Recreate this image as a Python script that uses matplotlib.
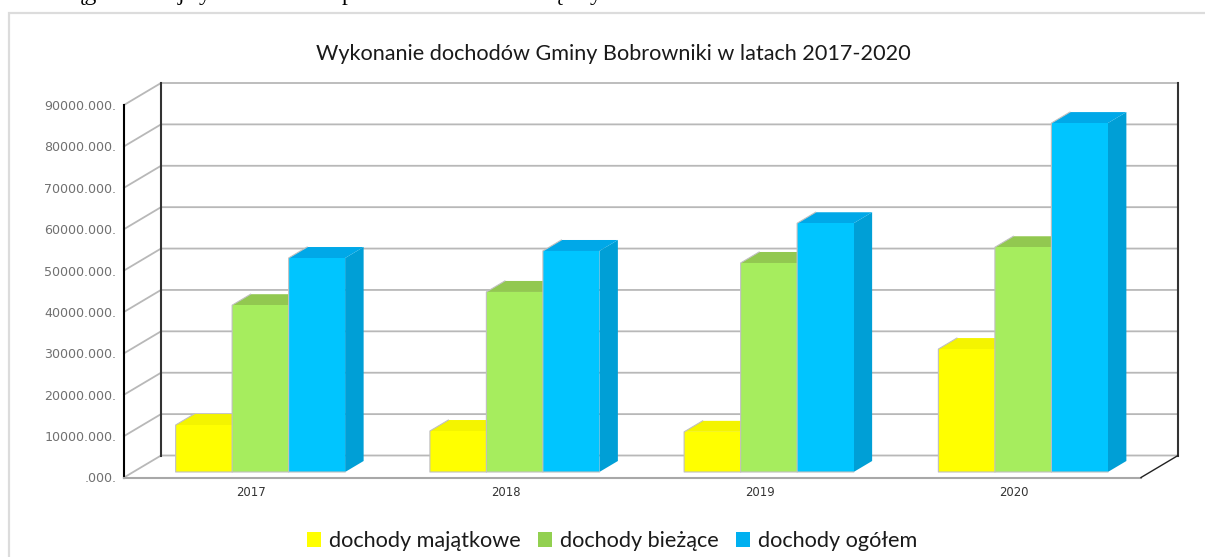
import matplotlib
matplotlib.use("Agg")
import matplotlib.pyplot as plt
from matplotlib.patches import Patch, Polygon, Rectangle
from matplotlib.ticker import FuncFormatter

W, H = 1205, 557

years = ["2017", "2018", "2019", "2020"]
series_names = ["dochody majątkowe", "dochody bieżące", "dochody ogółem"]
dochody_majatkowe = [11.35e6, 9.9e6, 9.7e6, 29.7e6]
dochody_biezace = [40.3e6, 43.5e6, 50.5e6, 54.3e6]
dochody_ogolem = [51.7e6, 53.4e6, 60.1e6, 84.3e6]
series_values = [dochody_majatkowe, dochody_biezace, dochody_ogolem]
y_ticks = list(range(0, 90000001, 10000000))

title = "Wykonanie dochodów Gminy Bobrowniki w latach 2017-2020"
front_colors = ["#ffff00", "#a6ed5e", "#00c5ff"]
top_colors = ["#f4f400", "#92c850", "#00a8e8"]
side_colors = ["#d8d800", "#84b848", "#009fd6"]
legend_colors = ["#ffff00", "#92d050", "#00b0f0"]
GRID = "#b8b8b8"
EDGE = "#c0c0c0"

fig = plt.figure(figsize=(W / 100, H / 100), dpi=100)
fig.patch.set_facecolor("white")

# chart frame, running off the right and bottom of the picture
fig.add_artist(Rectangle((8.5 / W, -0.05), 1.1, 1.05 - 12.5 / H, transform=fig.transFigure,
                         fill=False, edgecolor="#dcdcdc", linewidth=1.6))

# descenders of the cut-off line of body text above the chart
for gx, glyph in [(74, "ąg"), (178, "j"), (199, "y"), (342, "p"), (551, "ą"), (590, "y")]:
    fig.text(gx / W, 1 - 0.0 / H, glyph, family="Liberation Serif", fontsize=17, color="black",
             ha="left", va="baseline")

L, R, T, B = 124, 1141, 105, 477.5
ax = fig.add_axes([L / W, 1 - B / H, (R - L) / W, (B - T) / H])
ax.set_xlim(0, 4)
ax.set_ylim(0, 90e6)
ax.patch.set_alpha(0)
for s in ax.spines.values():
    s.set_visible(False)

DX = 37 / ((R - L) / 4)
DY = 22 / ((B - T) / 90e6)


def proj(x, y, d):
    return x + d * DX, y + d * DY


# walls and grid
for v in y_ticks:
    x0, y0 = proj(0, v, 0)
    x1, y1 = proj(0, v, 1)
    x2, y2 = proj(4, v, 1)
    ax.plot([x0, x1, x2], [y0, y1, y2], color=GRID, lw=1.3, clip_on=False, zorder=1,
            solid_joinstyle="miter")
for xpos in (0, 4):
    a = proj(xpos, 0, 1)
    b = proj(xpos, 90e6, 1)
    ax.plot([a[0], b[0]], [a[1], b[1]], color="#333333", lw=1.5, clip_on=False, zorder=2)
ax.plot([0, 0], [0, 90e6], color="black", lw=1.5, clip_on=False, zorder=2)
ax.plot([0, 4], [0, 0], color="#a8a8a8", lw=1.5, clip_on=False, zorder=2)
a = proj(4, 0, 1)
ax.plot([4, a[0]], [0, a[1]], color="#222222", lw=1.0, clip_on=False, zorder=2)

# bars
BW = 56.5 / ((R - L) / 4)
D0, D1 = 0.25, 0.75
z = 3
for i in range(len(years)):
    for j, vals in enumerate(series_values):
        x0 = i + 0.5 + (j - 1.5) * BW
        x1 = x0 + BW
        v = vals[i]
        side = [proj(x1, 0, D0), proj(x1, 0, D1), proj(x1, v, D1), proj(x1, v, D0)]
        top = [proj(x0, v, D0), proj(x1, v, D0), proj(x1, v, D1), proj(x0, v, D1)]
        front = [proj(x0, 0, D0), proj(x1, 0, D0), proj(x1, v, D0), proj(x0, v, D0)]
        ax.add_patch(Polygon(side, closed=True, facecolor=side_colors[j], edgecolor="none", clip_on=False, zorder=z))
        ax.add_patch(Polygon(top, closed=True, facecolor=top_colors[j], edgecolor="none", clip_on=False, zorder=z))
        ax.add_patch(Polygon(front, closed=True, facecolor=front_colors[j], edgecolor="none", clip_on=False, zorder=z))
        outline = [front[1], front[0], front[3], top[3]]
        ax.plot([p[0] for p in outline], [p[1] for p in outline], color=EDGE, lw=0.8,
                clip_on=False, zorder=z)
        z += 1

# axes labels
ax.set_yticks(y_ticks)
ax.yaxis.set_major_formatter(FuncFormatter(lambda v, _: ".000." if v == 0 else f"{v / 1000:.0f}.000."))
ax.tick_params(axis="y", length=0, pad=5.5, labelsize=9.1, labelcolor="#707070")
ax.set_xticks([i + 0.5 for i in range(len(years))])
ax.set_xticklabels(years)
ax.tick_params(axis="x", length=0, pad=6, labelsize=8.4, labelcolor="#333333")

fig.text(613 / W, 1 - 54 / H, title, family="Lato", fontsize=15.6, color="#1a1a1a", ha="center", va="center")

handles = [Patch(facecolor=c, edgecolor="none") for c in legend_colors]
fig.legend(handles, series_names, loc="center", bbox_to_anchor=(612 / W, 1 - 541 / H), ncol=3,
           frameon=False, prop={"family": "Lato", "size": 15.6}, labelcolor="#1a1a1a",
           handlelength=0.66, handleheight=0.66, handletextpad=0.36, columnspacing=0.8,
           borderpad=0, borderaxespad=0)

fig.savefig("out.png", dpi=100)
